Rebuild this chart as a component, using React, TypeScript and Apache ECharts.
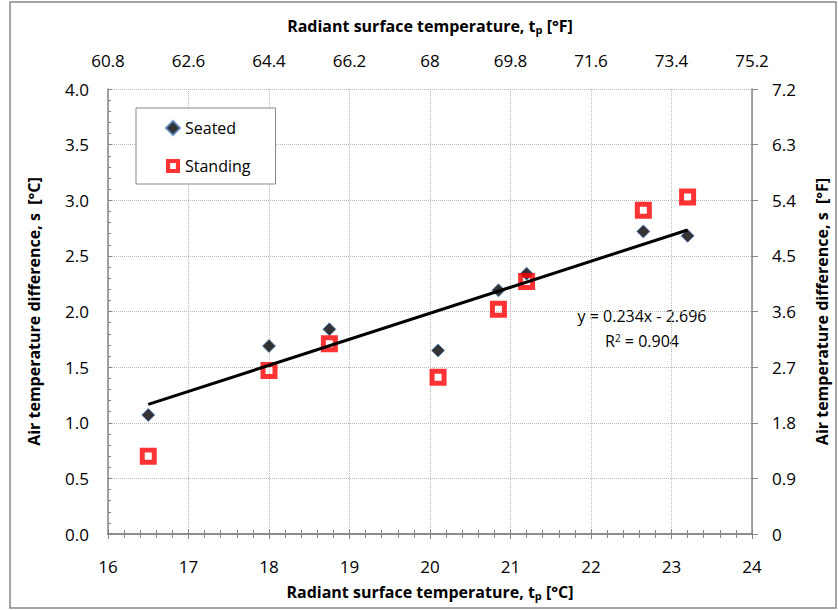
import React, { useEffect, useRef } from "react";
import * as echarts from "echarts";

// Radiant surface temperature tp [°C]
const tempC = [16.5, 18.0, 18.75, 20.1, 20.85, 21.2, 22.65, 23.2];
// Air temperature difference s [°C]
const seated = [1.07, 1.69, 1.84, 1.65, 2.19, 2.34, 2.72, 2.68];
const standing = [0.7, 1.47, 1.71, 1.41, 2.02, 2.27, 2.91, 3.03];
// Trend line (shown equation)
const trendSlope = 0.234;
const trendIntercept = -2.696;
const trendRangeX = [16.5, 23.2];
// Tick labels of the secondary (°F) axes
const topTickLabels = ["60.8", "62.6", "64.4", "66.2", "68", "69.8", "71.6", "73.4", "75.2"];
const rightTickLabels = ["0", "0.9", "1.8", "2.7", "3.6", "4.5", "5.4", "6.3", "7.2"];

const FONT = '"Open Sans", "Noto Sans", sans-serif';
const AXIS = "#868686";
const GRID = "#b8b8b8";
const HOLLOW_SQUARE = "path://M0,0H17V17H0Z M5,5V12H12V5Z";

export default function App() {
  const ref = useRef<HTMLDivElement>(null);
  useEffect(() => {
    if (!ref.current) return;
    const chart = echarts.init(ref.current, null, { renderer: "svg" });
    const subRich = {
      sub: { fontSize: 11, fontWeight: "bold", fontFamily: FONT, color: "#000", verticalAlign: "bottom", padding: [7, 0, 0, 0] },
    };
    const nameStyle = { fontFamily: FONT, fontSize: 16, fontWeight: "bold", color: "#000", rich: subRich };
    const labelStyle = { fontFamily: FONT, fontSize: 17, color: "#000" };
    const option: any = {
      animation: false,
      backgroundColor: "#fff",
      grid: { left: 108, right: 81, top: 89, bottom: 76 },
      legend: {
        data: ["Seated", "Standing"],
        orient: "vertical",
        left: 136,
        top: 108,
        backgroundColor: "#fff",
        borderColor: "#888",
        borderWidth: 1,
        padding: [11, 25, 9, 29],
        itemGap: 20,
        itemWidth: 14,
        itemHeight: 14,
        textStyle: { fontFamily: FONT, fontSize: 16, color: "#000", lineHeight: 18 },
      },
      xAxis: [
        {
          type: "value",
          position: "bottom",
          min: 16,
          max: 24,
          interval: 1,
          name: "Radiant surface temperature, t{sub|p} [°C]",
          nameLocation: "middle",
          nameGap: 49,
          nameTextStyle: nameStyle,
          axisLine: { show: true, lineStyle: { color: AXIS, width: 1.5 } },
          axisTick: { show: true, inside: true, length: 5, lineStyle: { color: AXIS } },
          minorTick: { show: true, splitNumber: 5, length: 4, lineStyle: { color: AXIS } },
          axisLabel: { ...labelStyle, margin: 24 },
          splitLine: { show: true, lineStyle: { color: GRID, type: [1, 1], width: 1 } },
        },
        {
          type: "value",
          position: "top",
          min: 16,
          max: 24,
          interval: 1,
          name: "Radiant surface temperature, t{sub|p} [°F]",
          nameLocation: "middle",
          nameGap: 54,
          nameTextStyle: nameStyle,
          axisLine: { show: true, lineStyle: { color: AXIS, width: 1.5 } },
          axisTick: { show: true, inside: true, length: 5, lineStyle: { color: AXIS } },
          minorTick: { show: true, splitNumber: 5, length: 4, lineStyle: { color: AXIS } },
          axisLabel: {
            ...labelStyle,
            margin: 20,
            formatter: (v: number) => topTickLabels[Math.round(v - 16)],
          },
          splitLine: { show: false },
        },
      ],
      yAxis: [
        {
          type: "value",
          position: "left",
          min: 0,
          max: 4,
          interval: 0.5,
          name: "Air temperature difference, s  [°C]",
          nameLocation: "middle",
          nameGap: 66,
          nameTextStyle: { ...nameStyle },
          axisLine: { show: true, lineStyle: { color: AXIS, width: 1.5 } },
          axisTick: { show: true, inside: true, length: 4, lineStyle: { color: AXIS } },
          minorTick: { show: true, splitNumber: 5, length: 3, lineStyle: { color: AXIS } },
          axisLabel: { ...labelStyle, margin: 19, formatter: (v: number) => v.toFixed(1) },
          splitLine: { show: true, lineStyle: { color: GRID, type: [1, 1], width: 1 } },
        },
        {
          type: "value",
          position: "right",
          min: 0,
          max: 4,
          interval: 0.5,
          name: "Air temperature difference, s  [°F]",
          nameLocation: "middle",
          nameGap: 62,
          nameTextStyle: { ...nameStyle },
          axisLine: { show: true, lineStyle: { color: AXIS, width: 1.5 } },
          axisTick: { show: true, inside: false, length: 6, lineStyle: { color: AXIS } },
          axisLabel: {
            ...labelStyle,
            margin: 20,
            formatter: (v: number) => rightTickLabels[Math.round(v / 0.5)],
          },
          splitLine: { show: false },
        },
      ],
      series: [
        {
          name: "Seated",
          type: "scatter",
          xAxisIndex: 0,
          yAxisIndex: 0,
          symbol: "diamond",
          symbolSize: 13,
          itemStyle: { color: "#000", borderColor: "#4f81bd", borderWidth: 1 },
          data: tempC.map((x, i) => [x, seated[i]]),
          z: 2,
        },
        {
          name: "Standing",
          type: "scatter",
          xAxisIndex: 0,
          yAxisIndex: 0,
          symbol: HOLLOW_SQUARE,
          symbolSize: 17,
          itemStyle: { color: "#ff0000" },
          data: tempC.map((x, i) => [x, standing[i]]),
          z: 3,
        },
        {
          name: "Trend",
          type: "line",
          xAxisIndex: 0,
          yAxisIndex: 0,
          showSymbol: false,
          symbol: "none",
          lineStyle: { color: "#000", width: 3 },
          data: trendRangeX.map((x) => [x, trendSlope * x + trendIntercept]),
          z: 4,
        },
      ],
      graphic: [
        {
          type: "rect",
          shape: { x: 10, y: 2, width: 826, height: 606 },
          style: { fill: "none", stroke: "#888", lineWidth: 1.5 },
          silent: true,
        },
        {
          type: "text",
          x: 642,
          y: 316,
          style: {
            text: "y = 0.234x - 2.696",
            fontFamily: FONT,
            fontSize: 16,
            fill: "#000",
            align: "center",
            verticalAlign: "middle",
          },
        },
        {
          type: "text",
          x: 642,
          y: 341,
          style: {
            text: "R{sup|2} = 0.904",
            fontFamily: FONT,
            fontSize: 16,
            fill: "#000",
            align: "center",
            verticalAlign: "middle",
            rich: { sup: { fontSize: 10, fontFamily: FONT, fill: "#000", verticalAlign: "top", padding: [0, 0, 7, 0] } },
          },
        },
      ],
    };
    chart.setOption(option);
    return () => chart.dispose();
  }, []);
  return (
    <div
      ref={ref}
      style={{ position: "absolute", left: 0, top: 0, width: 838, height: 610, background: "#fff" }}
    />
  );
}
